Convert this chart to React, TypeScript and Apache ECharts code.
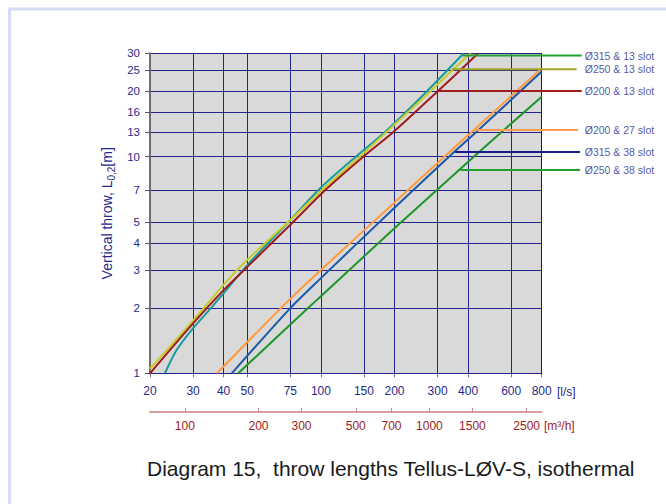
import React, { useEffect, useRef } from "react";
import * as echarts from "echarts";

const FONT = "'Liberation Sans', Arial, Helvetica, sans-serif";

// Axis tick values
const xTicksLs = [20, 30, 40, 50, 75, 100, 150, 200, 300, 400, 600, 800];
const yTicks = [1, 2, 3, 4, 5, 7, 10, 13, 16, 20, 25, 30];
const xTicksM3h = [100, 200, 300, 500, 700, 1000, 1500, 2500];

// Curves: [airflow l/s, vertical throw m]
const tealCurve = [[23, 1], [25.7, 1.28], [29.8, 1.6], [35.5, 2], [40, 2.34], [50, 3.16], [75, 5.1], [100, 7.2], [139, 10], [183, 13], [271, 20], [384, 30]];
const yellowCurve = [[20, 1.05], [30, 1.75], [40, 2.56], [50, 3.34], [75, 5.1], [100, 6.95], [144, 10], [280, 20], [344, 25], [410, 30]];
const redCurve = [[20, 1], [30, 1.7], [40, 2.42], [50, 3.1], [75, 4.85], [104, 7], [149, 10], [198, 13], [300, 20], [440, 30]];
const orangeCurve = [[37.6, 1], [68.6, 2], [100, 3.0], [200, 6.15], [320, 10], [420, 13.2], [800, 25.6]];
const blueCurve = [[43.2, 1], [75, 2], [100, 2.75], [200, 5.81], [334, 10], [432, 13], [800, 24.7]];
const greenCurve = [[45.9, 1], [88.6, 2], [100, 2.27], [200, 4.67], [422, 10], [800, 18.9]];

// Leader lines and their labels
const leaderNames = ["Ø315 & 13 slot", "Ø250 & 13 slot", "Ø200 & 13 slot", "Ø200 & 27 slot", "Ø315 & 38 slot", "Ø250 & 38 slot"];
const leaderY = [29.3, 25.3, 20.1, 13.28, 10.5, 8.68];
const leaderStartX = [380, 343, 297.6, 427, 354, 372];
const leaderEndX = [1166, 1112, 1166, 1127, 1148, 1148];
const leaderColors = ["#22a030", "#a3a328", "#a01c1c", "#ff9a50", "#1a1a8a", "#22a030"];
const leaderLabelX = 1200;

const curveDefs = [
  { name: "teal", data: tealCurve, color: "#1a9a9a" },
  { name: "yellow", data: yellowCurve, color: "#c8cc28" },
  { name: "red", data: redCurve, color: "#a01c1c" },
  { name: "orange", data: orangeCurve, color: "#ff9a3c" },
  { name: "blue", data: blueCurve, color: "#1c5aa8" },
  { name: "green", data: greenCurve, color: "#1c9628" },
];

const NAVY = "#23238e";
const LABEL_NAVY = "#1f2a8a";
const LABEL_RED = "#9a1c1c";

export default function App() {
  const ref = useRef<HTMLDivElement>(null);

  useEffect(() => {
    document.body.style.margin = "0";
    if (!ref.current) return;
    const chart = echarts.init(ref.current, undefined, { renderer: "svg" });

    const series: any[] = [];
    curveDefs.forEach((c) => {
      series.push({
        type: "line",
        name: c.name,
        xAxisIndex: 0,
        yAxisIndex: 0,
        data: c.data,
        smooth: 0.25,
        symbol: "none",
        lineStyle: { color: c.color, width: 2 },
        z: 3,
        silent: true,
      });
    });
    series.push({
      type: "custom",
      name: "leaders",
      xAxisIndex: 0,
      yAxisIndex: 0,
      clip: false,
      silent: true,
      z: 4,
      data: leaderNames.map((n, i) => [leaderStartX[i], leaderEndX[i], leaderY[i]]),
      encode: { x: [0, 1], y: 2 },
      renderItem: (params: any, api: any) => {
        const p1 = api.coord([api.value(0), api.value(2)]);
        const p2 = api.coord([api.value(1), api.value(2)]);
        return {
          type: "line",
          shape: { x1: p1[0], y1: p1[1], x2: p2[0], y2: p2[1] },
          style: { stroke: leaderColors[params.dataIndex], lineWidth: 2 },
        };
      },
    });
    series.push({
      type: "scatter",
      name: "labels",
      xAxisIndex: 0,
      yAxisIndex: 0,
      clip: false,
      symbolSize: 0,
      silent: true,
      data: leaderNames.map((n, i) => ({ name: n, value: [leaderLabelX, leaderY[i]] })),
      label: {
        show: true,
        position: "right",
        distance: 0,
        formatter: "{b}",
        color: LABEL_NAVY,
        fontSize: 10.5,
        fontFamily: FONT,
      },
      z: 5,
    });

    const fmt = (v: number) => String(Math.round(v));

    chart.setOption({
      animation: false,
      backgroundColor: "#ffffff",
      textStyle: { fontFamily: FONT },
      title: {
        text: "Diagram 15,  throw lengths Tellus-LØV-S, isothermal",
        left: 147,
        top: 458,
        padding: 0,
        textStyle: { fontSize: 21, fontWeight: "normal", color: "#1a1a1a", fontFamily: FONT },
      },
      graphic: [
        {
          type: "rect",
          shape: { x: 9.5, y: 9, width: 720, height: 600 },
          style: { fill: "none", stroke: "#d5dcf5", lineWidth: 3 },
          silent: true,
          z: -10,
        },
        {
          type: "text",
          x: 557,
          y: 391.5,
          silent: true,
          style: { text: "[l/s]", fill: LABEL_NAVY, fontSize: 12, fontFamily: FONT, verticalAlign: "middle", align: "left" },
        },
        {
          type: "text",
          x: 544,
          y: 425.5,
          silent: true,
          style: { text: "[m³/h]", fill: LABEL_RED, fontSize: 12, fontFamily: FONT, verticalAlign: "middle", align: "left" },
        },
      ],
      grid: {
        left: 150,
        right: 124.3,
        top: 53.3,
        bottom: 130.7,
        show: true,
        backgroundColor: "#d9d9d9",
        borderWidth: 0,
      },
      xAxis: [
        {
          type: "log",
          min: 20,
          max: 800,
          position: "bottom",
          axisLine: { show: true, onZero: false, lineStyle: { color: NAVY, width: 1 } },
          axisTick: { show: true, length: 4, lineStyle: { color: "#777" }, customValues: xTicksLs },
          axisLabel: { customValues: xTicksLs, formatter: fmt, color: LABEL_NAVY, fontSize: 12, margin: 12, fontFamily: FONT },
          splitLine: { show: true, lineStyle: { color: NAVY, width: 1 } },
        },
        {
          type: "log",
          min: 72,
          max: 2880,
          position: "bottom",
          offset: 38.7,
          axisLine: { show: true, onZero: false, lineStyle: { color: "#d9a0a0", width: 2 } },
          axisTick: { show: true, inside: true, length: 4, lineStyle: { color: "#d09090", width: 1 }, customValues: xTicksM3h },
          axisLabel: { customValues: xTicksM3h, formatter: fmt, color: LABEL_RED, fontSize: 12, margin: 8, fontFamily: FONT },
          splitLine: { show: false },
        },
      ],
      yAxis: [
        {
          type: "log",
          min: 1,
          max: 30,
          position: "left",
          z: 2,
          axisLine: { show: true, onZero: false, lineStyle: { color: "#6e6e6e", width: 2 } },
          axisTick: { show: true, length: 5, lineStyle: { color: "#555" }, customValues: yTicks },
          axisLabel: { customValues: yTicks, formatter: fmt, color: LABEL_NAVY, fontSize: 11.5, margin: 10, fontFamily: FONT },
          splitLine: { show: true, lineStyle: { color: NAVY, width: 1 } },
          name: "Vertical throw, L{sub|0,2}[m]",
          nameLocation: "middle",
          nameGap: 34,
          nameTextStyle: {
            color: LABEL_NAVY,
            fontSize: 14,
            lineHeight: 19,
            fontFamily: FONT,
            rich: { sub: { fontSize: 10, lineHeight: 10, verticalAlign: "bottom", color: LABEL_NAVY, fontFamily: FONT } },
          },
        },
        {
          type: "log",
          min: 1,
          max: 30,
          position: "right",
          z: 2,
          axisLine: { show: true, onZero: false, lineStyle: { color: "#222", width: 1 } },
          axisTick: { show: false },
          axisLabel: { show: false },
          splitLine: { show: false },
        },
      ],
      series,
    });

    return () => chart.dispose();
  }, []);

  return <div ref={ref} style={{ width: 666, height: 504 }} />;
}
